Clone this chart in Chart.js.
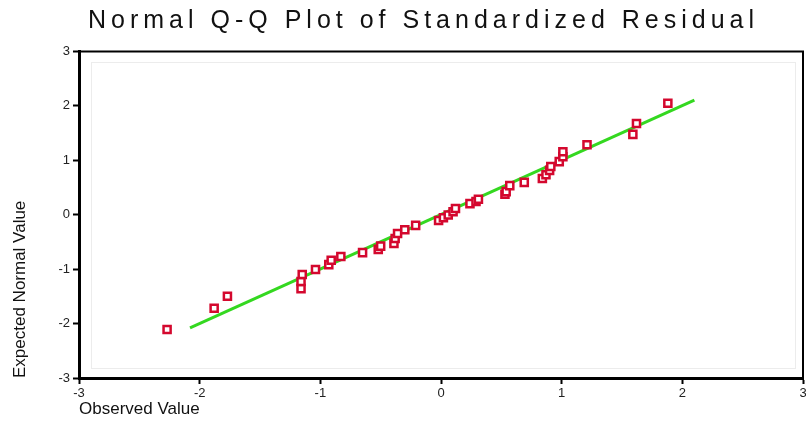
<!DOCTYPE html>
<html>
<head>
<meta charset="utf-8">
<title>Normal Q-Q Plot</title>
<script src="https://cdn.jsdelivr.net/npm/chart.js@4"></script>
<style>
  html, body { margin: 0; padding: 0; background: #fff; }
  #wrap { width: 806px; height: 443px; }
</style>
</head>
<body>
<div id="wrap"><canvas id="qqChart"></canvas></div>
<script>
const observed = [
    -2.27, -1.88, -1.77, -1.16, -1.16, -1.15, -1.04, -0.93, -0.91, -0.83,
    -0.65, -0.52, -0.50, -0.39, -0.38, -0.36, -0.30, -0.21, -0.02, 0.02,
    0.06, 0.10, 0.12, 0.24, 0.29, 0.31, 0.53, 0.54, 0.57, 0.69,
    0.84, 0.87, 0.90, 0.91, 0.98, 1.01, 1.01, 1.21, 1.59, 1.62, 1.88
];
const expected = [
    -2.11, -1.72, -1.50, -1.36, -1.23, -1.10, -1.01, -0.92, -0.84, -0.77,
    -0.70, -0.64, -0.58, -0.53, -0.44, -0.35, -0.28, -0.20, -0.11, -0.06,
    -0.01, 0.05, 0.11, 0.20, 0.24, 0.28, 0.37, 0.42, 0.53, 0.59,
    0.66, 0.73, 0.81, 0.88, 0.97, 1.06, 1.15, 1.28, 1.47, 1.67, 2.04
];
const refLineX = [-2.08, 2.1];
const refLineY = [-2.08, 2.1];
const tickValues = [-3, -2, -1, 0, 1, 2, 3];
const tickLabels = ["-3", "-2", "-1", "0", "1", "2", "3"];

const tickFont = { family: "'Liberation Sans', Arial, sans-serif", size: 13 };

/** title text is spread out in the original, so add letter spacing */
const spacedTitle = {
    id: "spacedTitle",
    beforeDraw(chart) {
        const block = chart.titleBlock;
        if (!block || block._spaced) return;
        const draw = block.draw.bind(block);
        block.draw = function () {
            chart.ctx.save();
            chart.ctx.translate(22, 0); // original sits a bit right of centre
            chart.ctx.letterSpacing = "5px";
            draw();
            chart.ctx.restore();
        };
        block._spaced = true;
    },
};

/** top/right frame lines and the faint inner box */
const plotFrame = {
    id: "plotFrame",
    beforeDatasetsDraw(chart) {
        const { ctx, chartArea: a } = chart;
        ctx.save();
        ctx.strokeStyle = "#ececec";
        ctx.lineWidth = 1;
        ctx.strokeRect(a.left + 12.5, a.top + 11.5, a.right - a.left - 20, a.bottom - a.top - 21);
        ctx.strokeStyle = "#000";
        ctx.lineWidth = 2;
        ctx.beginPath();
        ctx.moveTo(a.left, a.top + 0.5);
        ctx.lineTo(a.right, a.top + 0.5);
        ctx.lineTo(a.right, a.bottom);
        ctx.stroke();
        ctx.restore();
    },
};

function axisTicks(scale) {
    scale.ticks = tickValues.map((v) => ({ value: v }));
}

const ctx = document.getElementById("qqChart").getContext("2d");

new Chart(ctx, {
    type: "scatter",
    data: {
        datasets: [
            {
                label: "Residual",
                data: observed.map((x, i) => ({ x, y: expected[i] })),
                pointStyle: "rect",
                pointRadius: 5,
                pointHoverRadius: 5,
                borderWidth: 2.5,
                borderColor: "#d4082e",
                backgroundColor: "#fff",
            },
            {
                type: "line",
                label: "Reference",
                data: refLineX.map((x, i) => ({ x, y: refLineY[i] })),
                borderColor: "#34d820",
                borderWidth: 3,
                pointRadius: 0,
                fill: false,
            },
        ],
    },
    options: {
        responsive: true,
        maintainAspectRatio: false,
        animation: false,
        layout: { autoPadding: false, padding: { left: 0, right: 3, top: 0, bottom: 0 } },
        plugins: {
            legend: { display: false },
            tooltip: { enabled: false },
            title: {
                display: true,
                text: "Normal Q-Q Plot of Standardized Residual",
                color: "#111",
                font: { family: "'Liberation Sans', Arial, sans-serif", size: 25, weight: "normal" },
                padding: { top: 6, bottom: 15 },
            },
        },
        scales: {
            x: {
                type: "linear",
                min: -3,
                max: 3,
                afterBuildTicks: axisTicks,
                afterFit(scale) {
                    scale.height = 65;
                    scale.paddingRight = 0;
                },
                ticks: {
                    color: "#222",
                    font: tickFont,
                    padding: 2,
                    maxRotation: 0,
                    callback: (v) => tickLabels[tickValues.indexOf(v)],
                },
                grid: {
                    drawOnChartArea: false,
                    tickLength: 6,
                    tickColor: "#000",
                    tickWidth: 2,
                },
                border: { color: "#000", width: 3 },
                title: {
                    display: true,
                    text: "Observed Value",
                    align: "start",
                    color: "#111",
                    font: { family: "'Liberation Sans', Arial, sans-serif", size: 17 },
                    padding: { top: 0, bottom: 23 },
                },
            },
            y: {
                type: "linear",
                min: -3,
                max: 3,
                afterBuildTicks: axisTicks,
                afterFit(scale) {
                    scale.width = 79;
                },
                ticks: {
                    color: "#222",
                    font: tickFont,
                    padding: 3,
                    callback: (v) => tickLabels[tickValues.indexOf(v)],
                },
                grid: {
                    drawOnChartArea: false,
                    tickLength: 6,
                    tickColor: "#000",
                    tickWidth: 2,
                },
                border: { color: "#000", width: 3 },
                title: {
                    display: true,
                    text: "Expected Normal Value",
                    align: "start",
                    color: "#111",
                    font: { family: "'Liberation Sans Narrow', 'Liberation Sans', Arial, sans-serif", size: 17 },
                    padding: { top: 10, bottom: 0 },
                },
            },
        },
    },
    plugins: [spacedTitle, plotFrame],
});
</script>
</body>
</html>
